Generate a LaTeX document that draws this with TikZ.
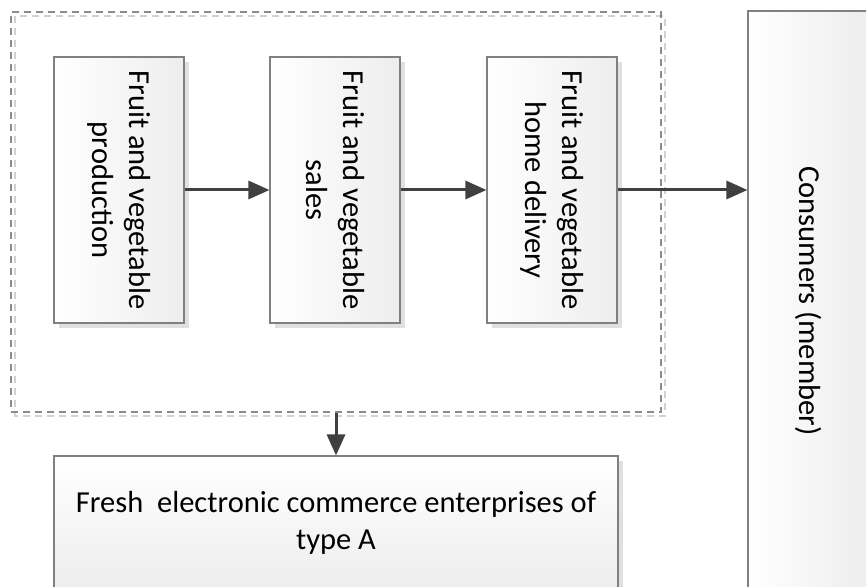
\documentclass[tikz,border=0pt]{standalone}
\usepackage{fontspec}
\setmainfont{Carlito}
\usetikzlibrary{arrows.meta,shadows}
\tikzset{
  stagebox/.style={draw=black!50, line width=1.1pt, left color=white, right color=black!7,
    drop shadow={shadow xshift=5pt, shadow yshift=-5pt, fill=black!12, opacity=1},
    align=center, font=\fontsize{30.5}{37}\selectfont, inner sep=0pt},
  flow/.style={draw=black!75, line width=3pt, -{Triangle[length=21pt,width=18pt]}}
}
\begin{document}
\begin{tikzpicture}[x=1pt,y=1pt]
  %%%%% START %%%%%
  \useasboundingbox (0,0) rectangle (866,586);
  \clip (0,0) rectangle (866,586);
  \fill[white] (0,0) rectangle (866,586);

  % dashed group frame
  \draw[black!18, line width=1.1pt, dash pattern=on 7pt off 5pt] (15,570) rectangle (665,170);
  \node[draw=black!45, line width=1.1pt, dash pattern=on 7pt off 5pt, minimum width=650pt, minimum height=400pt, inner sep=0pt]
    (grp) at (336,374) {};

  % stages
  \node[stagebox, rotate=-90, minimum width=266pt, minimum height=130pt] (prod) at (119,396)
    {Fruit and vegetable\\production};
  \node[stagebox, rotate=-90, minimum width=266pt, minimum height=130pt] (sale) at (335,396)
    {Fruit and vegetable\\sales};
  \node[stagebox, rotate=-90, minimum width=266pt, minimum height=130pt] (deli) at (552,396)
    {Fruit and vegetable\\home delivery};

  \node[stagebox, rotate=-90, minimum width=580pt, minimum height=122pt] (cons) at (809,285)
    {Consumers (member)};
  \node[draw=black!50, line width=1.1pt, top color=white, bottom color=black!7,
    drop shadow={shadow xshift=5pt, shadow yshift=-5pt, fill=black!12, opacity=1},
    align=center, font=\fontsize{30.5}{37}\selectfont, inner sep=0pt,
    minimum width=564pt, minimum height=134pt] (fresh) at (336,63)
    {Fresh~ electronic commerce enterprises of\\type A};

  % arrows
  \draw[flow] (prod) -- (sale);
  \draw[flow] (sale) -- (deli);
  \draw[flow] (deli.north) -- (deli.north -| cons.south);
  \draw[flow] (grp.south) -- (fresh.north);

  %%%%% END %%%%%
\end{tikzpicture}
\end{document}
